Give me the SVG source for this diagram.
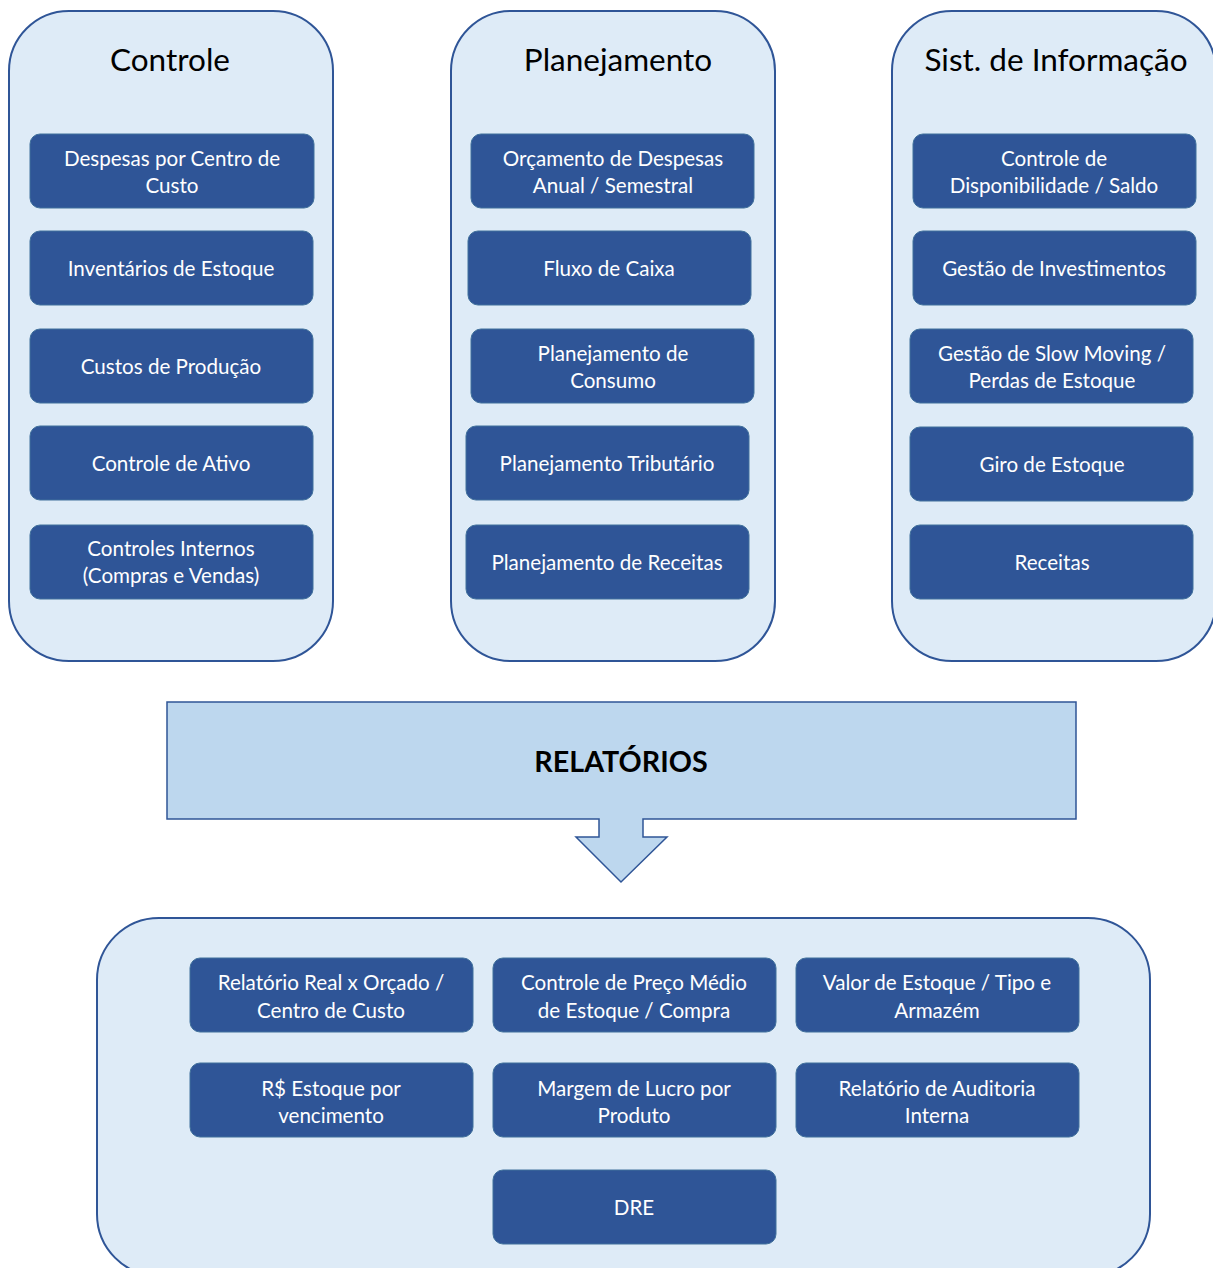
<svg xmlns="http://www.w3.org/2000/svg" width="1213" height="1268" viewBox="0 0 1213 1268">
<style>
.cont{fill:#DEEBF7;stroke:#2F5597;stroke-width:2}
.node{fill:#2F5597;stroke:#41719C;stroke-width:1}
.nt{font-family:Lato,"Open Sans",sans-serif;font-size:20.6px;fill:#ffffff;text-anchor:middle}
.title{font-family:Lato,"Open Sans",sans-serif;font-size:31.5px;fill:#000000;text-anchor:middle}
.call{fill:#BDD7EE;stroke:#2F5597;stroke-width:1.5}
.ct{font-family:Lato,"Open Sans",sans-serif;font-size:28.7px;font-weight:bold;fill:#000000;text-anchor:middle}
</style>
<rect width="1213" height="1268" fill="#ffffff"/>
<g id="containers">
<rect id="cont-controle" class="cont" x="9" y="11" width="324" height="650" rx="60" ry="60"/>
<rect id="cont-planejamento" class="cont" x="451" y="11" width="324" height="650" rx="60" ry="60"/>
<rect id="cont-sist" class="cont" x="892" y="11" width="324" height="650" rx="60" ry="60"/>
<rect id="cont-relatorios" class="cont" x="97" y="918" width="1053" height="358" rx="62" ry="62"/>
</g>
<g id="titles">
<text class="title" x="170" y="71">Controle</text>
<text class="title" x="618" y="71">Planejamento</text>
<text class="title" x="1056" y="71">Sist. de Informação</text>
</g>
<g id="connectors">
<path id="relatorios-callout" class="call" d="M167,702 H1076 V819 H643 V837 H667 L621,882 L576,837 H599 V819 H167 Z"/>
<text class="ct" x="621" y="772">RELATÓRIOS</text>
</g>
<g id="n-c1"><rect class="node" x="30" y="134" width="284" height="74" rx="10"/><text class="nt" x="172" y="166">Despesas por Centro de</text><text class="nt" x="172" y="193">Custo</text></g>
<g id="n-c2"><rect class="node" x="30" y="231" width="283" height="74" rx="10"/><text class="nt" x="171" y="276">Inventários de Estoque</text></g>
<g id="n-c3"><rect class="node" x="30" y="329" width="283" height="74" rx="10"/><text class="nt" x="171" y="374">Custos de Produção</text></g>
<g id="n-c4"><rect class="node" x="30" y="426" width="283" height="74" rx="10"/><text class="nt" x="171" y="471">Controle de Ativo</text></g>
<g id="n-c5"><rect class="node" x="30" y="525" width="283" height="74" rx="10"/><text class="nt" x="171" y="556">Controles Internos</text><text class="nt" x="171" y="583">(Compras e Vendas)</text></g>

<g id="n-p1"><rect class="node" x="471" y="134" width="283" height="74" rx="10"/><text class="nt" x="613" y="166">Orçamento de Despesas</text><text class="nt" x="613" y="193">Anual / Semestral</text></g>
<g id="n-p2"><rect class="node" x="468" y="231" width="283" height="74" rx="10"/><text class="nt" x="609" y="276">Fluxo de Caixa</text></g>
<g id="n-p3"><rect class="node" x="471" y="329" width="283" height="74" rx="10"/><text class="nt" x="613" y="361">Planejamento de</text><text class="nt" x="613" y="388">Consumo</text></g>
<g id="n-p4"><rect class="node" x="466" y="426" width="283" height="74" rx="10"/><text class="nt" x="607" y="471">Planejamento Tributário</text></g>
<g id="n-p5"><rect class="node" x="466" y="525" width="283" height="74" rx="10"/><text class="nt" x="607" y="570">Planejamento de Receitas</text></g>

<g id="n-s1"><rect class="node" x="913" y="134" width="283" height="74" rx="10"/><text class="nt" x="1054" y="166">Controle de</text><text class="nt" x="1054" y="193">Disponibilidade / Saldo</text></g>
<g id="n-s2"><rect class="node" x="913" y="231" width="283" height="74" rx="10"/><text class="nt" x="1054" y="276">Gestão de Investimentos</text></g>
<g id="n-s3"><rect class="node" x="910" y="329" width="283" height="74" rx="10"/><text class="nt" x="1052" y="361">Gestão de Slow Moving /</text><text class="nt" x="1052" y="388">Perdas de Estoque</text></g>
<g id="n-s4"><rect class="node" x="910" y="427" width="283" height="74" rx="10"/><text class="nt" x="1052" y="472">Giro de Estoque</text></g>
<g id="n-s5"><rect class="node" x="910" y="525" width="283" height="74" rx="10"/><text class="nt" x="1052" y="570">Receitas</text></g>

<g id="n-r1"><rect class="node" x="190" y="958" width="283" height="74" rx="10"/><text class="nt" x="331" y="990">Relatório Real x Orçado /</text><text class="nt" x="331" y="1018">Centro de Custo</text></g>
<g id="n-r2"><rect class="node" x="493" y="958" width="283" height="74" rx="10"/><text class="nt" x="634" y="990">Controle de Preço Médio</text><text class="nt" x="634" y="1018">de Estoque / Compra</text></g>
<g id="n-r3"><rect class="node" x="796" y="958" width="283" height="74" rx="10"/><text class="nt" x="937" y="990">Valor de Estoque / Tipo e</text><text class="nt" x="937" y="1018">Armazém</text></g>
<g id="n-r4"><rect class="node" x="190" y="1063" width="283" height="74" rx="10"/><text class="nt" x="331" y="1096">R$ Estoque por</text><text class="nt" x="331" y="1123">vencimento</text></g>
<g id="n-r5"><rect class="node" x="493" y="1063" width="283" height="74" rx="10"/><text class="nt" x="634" y="1096">Margem de Lucro por</text><text class="nt" x="634" y="1123">Produto</text></g>
<g id="n-r6"><rect class="node" x="796" y="1063" width="283" height="74" rx="10"/><text class="nt" x="937" y="1096">Relatório de Auditoria</text><text class="nt" x="937" y="1123">Interna</text></g>
<g id="n-r7"><rect class="node" x="493" y="1170" width="283" height="74" rx="10"/><text class="nt" x="634" y="1215">DRE</text></g>
</svg>
